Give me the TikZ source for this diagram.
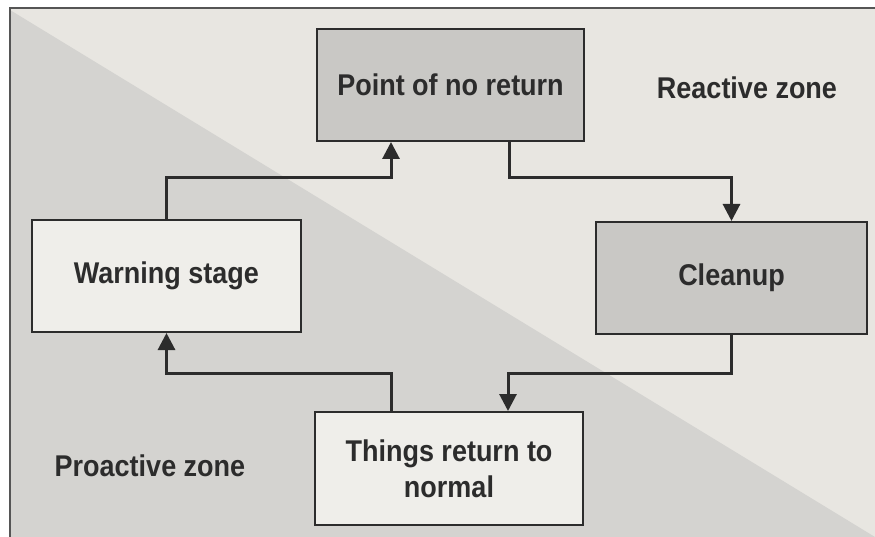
\documentclass[tikz,border=0pt]{standalone}
\usepackage{fontspec}
\setmainfont[FakeStretch=0.9]{Liberation Sans}
\usetikzlibrary{arrows.meta}
\definecolor{bgwhite}{HTML}{FFFFFF}
\definecolor{lightzone}{HTML}{E8E6E1}
\definecolor{darkzone}{HTML}{D4D3D0}
\definecolor{boxlight}{HTML}{EFEEEA}
\definecolor{boxdark}{HTML}{C9C8C5}
\definecolor{ink}{HTML}{2C2C2C}
\definecolor{frameline}{HTML}{555555}
\tikzset{
  box/.style={draw=ink, line width=2pt, inner sep=0pt, align=center,
    font=\fontsize{30}{36}\selectfont\bfseries, text=ink},
  lightbox/.style={box, fill=boxlight},
  darkbox/.style={box, fill=boxdark},
  zonelabel/.style={inner sep=0pt, font=\fontsize{30}{36}\selectfont\bfseries, text=ink},
  conn/.style={draw=ink, line width=3pt, -{Triangle[length=17pt,width=17pt]}}
}
\begin{document}
\begin{tikzpicture}[x=1pt,y=-1pt]
\useasboundingbox (0,0) rectangle (875,537);
\fill[bgwhite] (0,0) rectangle (875,537);
\fill[lightzone] (10,8) rectangle (875,537);
\fill[darkzone] (10,10) -- (875,537) -- (10,537) -- cycle;
\draw[frameline, line width=1.5pt] (10,537) -- (10,8) -- (875,8);

\node[darkbox, minimum width=267pt, minimum height=112pt] (point) at (450.5,85) {Point of no return};
\node[darkbox, minimum width=271pt, minimum height=112pt] (clean) at (731.5,278) {Cleanup};
\node[lightbox, minimum width=269pt, minimum height=112pt] (warn) at (166.5,276) {Warning stage};
\node[lightbox, minimum width=268pt, minimum height=113pt] (things) at (449,468.5) {Things return to\\normal};

\node[zonelabel] (reactive) at (747,88) {Reactive zone};
\node[zonelabel] (proactive) at (150,466) {Proactive zone};

\coordinate (c1) at (391,178);
\coordinate (c2) at (509,178);
\coordinate (c3) at (508,373);
\coordinate (c4) at (391,373);

\draw[conn] (warn.north) |- (c1) -- (c1 |- point.south);
\draw[conn] (c2 |- point.south) -- (c2) -| (clean.north);
\draw[conn] (clean.south) |- (c3) -- (c3 |- things.north);
\draw[conn] (c4 |- things.north) -- (c4) -| (warn.south);
\end{tikzpicture}
\end{document}
